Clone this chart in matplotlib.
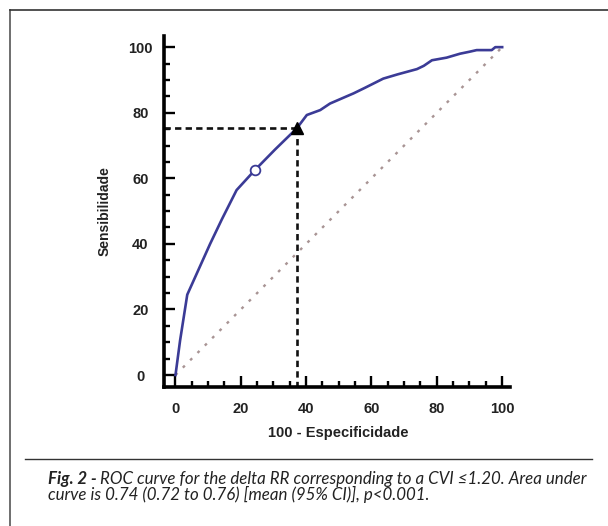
import matplotlib
matplotlib.use('Agg')
import matplotlib.pyplot as plt
import matplotlib.ticker as mticker
from matplotlib.lines import Line2D

# ROC curve (100 - especificidade, sensibilidade)
fpr = [0, 1.4, 3.6, 10.6, 14.2, 18.7, 24.3, 30.5, 37.1, 40.2, 44.3, 47.3, 52.4, 54.5,
       58.0, 63.6, 68.0, 73.9, 76.0, 78.5, 83.0, 87.1, 90.0, 92.2, 96.8, 97.9, 99.4, 100]
tpr = [0, 10.5, 24.5, 40.0, 47.5, 56.4, 62.5, 68.8, 75.2, 79.3, 80.8, 82.8, 85.0, 85.9,
       87.6, 90.4, 91.7, 93.3, 94.3, 96.0, 96.8, 98.0, 98.6, 99.1, 99.1, 100, 100, 100]
ref_line = [0, 100]

cut_x, cut_y = 37.1, 75.2      # triangle (cut-off)
alt_x, alt_y = 24.3, 62.5      # open circle

ticks = [0, 20, 40, 60, 80, 100]
xlabel = '100 - Especificidade'
ylabel = 'Sensibilidade'
cap_bold = 'Fig. 2 - '
cap_line1 = 'ROC curve for the delta RR corresponding to a CVI \u22641.20. Area under'
cap_line2 = 'curve is 0.74 (0.72 to 0.76) [mean (95% CI)], p<0.001.'

W, H = 608, 526
blue = '#3b3b96'
cap_font = ['Lato', 'DejaVu Sans']
lab_font = ['Liberation Sans', 'DejaVu Sans']

fig = plt.figure(figsize=(W / 100, H / 100), dpi=100)

# axes box in pixels: left 164, right 510, top 36, bottom 387
ax = fig.add_axes([164 / W, 1 - 387 / H, 346 / W, 351 / H])
ax.set_xlim(-3.52, 102.4)
ax.set_ylim(-3.66, 103.4)

for s in ['top', 'right']:
    ax.spines[s].set_visible(False)
for s in ['left', 'bottom']:
    ax.spines[s].set_linewidth(2.6)

ax.set_xticks(ticks, labels=[str(t) for t in ticks])
ax.set_yticks(ticks, labels=[str(t) for t in ticks])
ax.xaxis.set_minor_locator(mticker.MultipleLocator(5))
ax.yaxis.set_minor_locator(mticker.MultipleLocator(5))
ax.tick_params(which='major', direction='in', length=8, width=1.7)
ax.tick_params(which='minor', direction='in', length=4, width=1.7)
ax.tick_params(axis='x', which='major', pad=11)
ax.tick_params(axis='y', which='major', pad=17)
for lbl in ax.get_xticklabels() + ax.get_yticklabels():
    lbl.set_family(lab_font)
    lbl.set_fontweight('bold')
    lbl.set_fontsize(10.5)
    lbl.set_color('#222222')
for lbl in ax.get_yticklabels():
    lbl.set_horizontalalignment('center')

# reference diagonal
ax.plot(ref_line, ref_line, color='#a89494', lw=1.7, linestyle=(0, (1.2, 3.2)), zorder=1)

# dashed guide lines to the cut-off
ax.plot([-3.52, cut_x], [cut_y, cut_y], color='#111111', lw=1.9, dashes=(2.4, 1.6), zorder=2)
ax.plot([cut_x, cut_x], [cut_y, -3.66], color='#111111', lw=1.9, dashes=(2.4, 1.6), zorder=2)

# ROC curve
ax.plot(fpr, tpr, color=blue, lw=1.9, zorder=3)
ax.plot(cut_x, cut_y, marker='^', color='black', ms=9, zorder=4)
ax.plot(alt_x, alt_y, marker='o', mfc='white', mec=blue, mew=1.3, ms=7, zorder=4)

# axis titles
fig.text(338 / W, 1 - 433 / H, xlabel, family=lab_font, fontweight='bold', fontsize=10.5,
         ha='center', va='center', color='#222222')
fig.text(105 / W, 1 - 211 / H, ylabel, family=lab_font, fontweight='bold', fontsize=10,
         ha='center', va='center', rotation=90, color='#222222')

# frame and separator
fig.add_artist(Line2D([10 / W, 10 / W], [0, 1 - 10 / H], transform=fig.transFigure,
                      color='#555555', lw=1.2))
fig.add_artist(Line2D([10 / W, 1], [1 - 10 / H, 1 - 10 / H], transform=fig.transFigure,
                      color='#333333', lw=1.2))
fig.add_artist(Line2D([25 / W, 592 / W], [1 - 459 / H, 1 - 459 / H], transform=fig.transFigure,
                      color='#333333', lw=1.0))

# caption, size fitted so line 1 runs from x=48 to x=587
renderer = fig.canvas.get_renderer()
cap_size = 10.0
for _ in range(2):
    t0 = fig.text(48 / W, 1 - 479 / H, cap_bold, family=cap_font, style='italic',
                  fontweight='bold', fontsize=cap_size, ha='left', va='center', color='#222222')
    bb = t0.get_window_extent(renderer)
    t1 = fig.text(bb.x1 / W, 1 - 479 / H, cap_line1, family=cap_font, style='italic',
                  fontsize=cap_size, ha='left', va='center', color='#222222')
    bb1 = t1.get_window_extent(renderer)
    width = bb1.x1 - bb.x0
    if abs(width - 539) < 3:
        break
    t0.remove()
    t1.remove()
    cap_size = cap_size * 539 / width
fig.text(48 / W, 1 - 494 / H, cap_line2, family=cap_font, style='italic',
         fontsize=cap_size, ha='left', va='center', color='#222222')

fig.savefig('out.png', dpi=100)
